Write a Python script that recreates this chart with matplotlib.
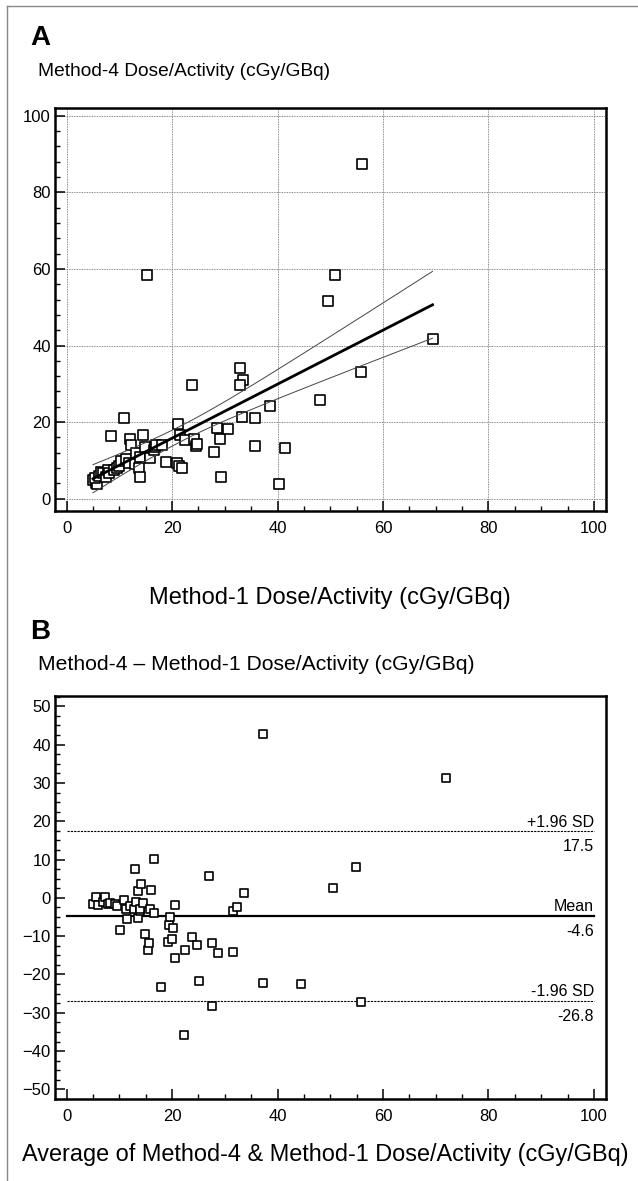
import matplotlib
matplotlib.use("Agg")
import matplotlib.pyplot as plt
import numpy as np
from matplotlib.lines import Line2D
from matplotlib.ticker import MultipleLocator

plt.rcParams['font.family'] = ['Liberation Sans', 'DejaVu Sans']

# Panel A: Method-1 vs Method-4 dose/activity (cGy/GBq)
method1 = [5.0, 5.5, 5.8, 5.3, 6.2, 6.5, 6.9, 7.4, 7.8, 8.1, 9.0, 9.6, 8.5, 10.0,
           10.4, 10.9, 11.2, 11.8, 12.1, 12.2, 12.9, 13.2, 13.8, 14.0, 14.0, 14.5,
           14.8, 15.2, 15.9, 16.5, 16.7, 17.0, 18.1, 18.9, 21.0, 21.1, 21.4, 21.6,
           21.9, 22.5, 23.8, 24.1, 24.6, 24.8, 28.0, 28.6, 29.1, 29.2, 30.7, 32.9,
           33.4, 32.9, 33.3, 35.7, 35.7, 38.5, 40.2, 41.5, 48.1, 49.5, 50.9, 55.8,
           56.0, 69.4]
method4 = [4.8, 4.2, 3.8, 5.3, 6.0, 6.9, 6.6, 5.7, 7.6, 6.8, 7.4, 8.0, 16.3, 8.5,
           9.9, 21.1, 10.5, 9.2, 15.7, 13.9, 9.0, 11.9, 8.1, 11.0, 5.7, 16.6,
           13.5, 58.3, 10.7, 12.8, 13.4, 14.0, 14.0, 9.7, 9.4, 19.4, 8.6, 16.6,
           8.0, 15.3, 29.6, 15.5, 13.8, 14.3, 12.1, 18.4, 15.5, 5.8, 18.2, 34.1,
           31.0, 29.6, 21.3, 21.2, 13.8, 24.3, 3.9, 13.2, 25.9, 51.7, 58.3, 33.0,
           87.3, 41.8]

# regression line and its 95% confidence band
fit_intercept = 1.7
fit_slope = 0.705
band_min = 2.05
band_xmean = 22.0
band_curv = 0.032

# Panel B: Bland-Altman
avg_b = [5.0, 5.5, 6.0, 6.9, 7.3, 7.8, 8.2, 9.1, 9.6, 10.2, 10.9, 11.2, 11.5, 12.0,
         12.8, 12.9, 13.1, 13.5, 13.5, 13.9, 14.0, 14.2, 14.5, 14.8, 15.4, 15.6,
         15.9, 16.1, 16.5, 16.5, 17.9, 19.3, 19.4, 19.6, 19.9, 20.1, 20.5, 20.6,
         22.2, 22.5, 23.8, 24.7, 25.2, 27.0, 27.5, 27.5, 28.7, 31.5, 31.6, 32.3,
         33.7, 37.2, 37.3, 44.5, 50.6, 54.9, 55.8, 72.0]
diff_b = [-1.6, 0.2, -1.8, -1.2, 0.3, -1.5, -1.4, -1.6, -2.2, -8.5, -0.5, -3.0, -5.6, -2.0,
          -3.0, 7.6, -1.0, 1.7, -5.3, -3.4, -2.8, 3.6, -1.4, -9.4, -13.6, -11.7,
          -3.0, 2.1, 10.1, -4.0, -23.2, -11.4, -7.0, -5.0, -10.7, -7.9, -15.7, -1.9,
          -35.7, -13.5, -10.3, -12.4, -21.8, 5.6, -11.8, -28.2, -14.4, -3.3, -14.2, -2.5,
          1.2, -22.2, 42.8, -22.6, 2.6, 8.1, -27.3, 31.3]
bias = -4.6
loa_upper = 17.5
loa_lower = -26.8

W, H = 638, 1181
fig = plt.figure(figsize=(W / 100, H / 100), dpi=100)

# thin grey frame on the left and top
fig.add_artist(Line2D([7 / W, 7 / W], [0, 1 - 6 / H], color='#888888', lw=1.0))
fig.add_artist(Line2D([7 / W, 1], [1 - 6 / H, 1 - 6 / H], color='#888888', lw=1.0))


def style_axes(ax):
    for s in ax.spines.values():
        s.set_linewidth(1.8)
    ax.tick_params(which='major', direction='in', length=7, width=1.1,
                   labelsize=12, top=False, right=False)
    ax.tick_params(which='minor', direction='in', length=3.5, width=1.0,
                   top=False, right=False)
    ax.tick_params(axis='x', which='major', pad=7)
    ax.tick_params(axis='y', which='major', pad=3)


# ---- Panel A ----
axA = fig.add_axes([55 / W, 1 - 511 / H, 551 / W, 403 / H])
axA.scatter(method1, method4, marker='s', s=42, facecolors='white',
            edgecolors='black', linewidths=1.2, zorder=3)

xs = np.linspace(min(method1), max(method1), 100)
fit = fit_intercept + fit_slope * xs
hw = np.sqrt(band_min ** 2 + band_curv * (xs - band_xmean) ** 2)
axA.plot(xs, fit, color='black', lw=2.0, zorder=4)
axA.plot(xs, fit + hw, color='#444444', lw=0.7, zorder=4)
axA.plot(xs, fit - hw, color='#444444', lw=0.7, zorder=4)

axA.set_xlim(-2.2, 102.3)
axA.set_ylim(-3.2, 102.0)
axA.xaxis.set_major_locator(MultipleLocator(20))
axA.xaxis.set_minor_locator(MultipleLocator(5))
axA.yaxis.set_major_locator(MultipleLocator(20))
axA.yaxis.set_minor_locator(MultipleLocator(4))
axA.grid(True, which='major', color='#666666', lw=0.6, ls=(0, (1, 1)))
style_axes(axA)

fig.text(30 / W, 1 - 38 / H, 'A', fontsize=20, fontweight='bold', va='center')
fig.text(38 / W, 1 - 72 / H, 'Method-4 Dose/Activity (cGy/GBq)', fontsize=13.8, va='center')
fig.text(330 / W, 1 - 598 / H, 'Method-1 Dose/Activity (cGy/GBq)', fontsize=17,
         ha='center', va='center')

# ---- Panel B ----
axB = fig.add_axes([55 / W, 1 - 1099 / H, 551 / W, 403 / H])
axB.scatter(avg_b, diff_b, marker='s', s=38, facecolors='white',
            edgecolors='black', linewidths=1.2, zorder=3)
axB.plot([0, 100], [bias, bias], color='black', lw=1.6)
axB.plot([0, 100], [loa_upper, loa_upper], color='black', lw=0.8, ls=(0, (2, 1)))
axB.plot([0, 100], [loa_lower, loa_lower], color='black', lw=0.8, ls=(0, (2, 1)))

for val, name in [(loa_upper, '+1.96 SD'), (bias, 'Mean'), (loa_lower, '-1.96 SD')]:
    axB.text(100, val + 2.3, name, ha='right', va='center', fontsize=11.5)
    axB.text(100, val - 4.2, f'{val:.1f}', ha='right', va='center', fontsize=11.5)

axB.set_xlim(-2.2, 102.3)
axB.set_ylim(-52.5, 52.7)
axB.xaxis.set_major_locator(MultipleLocator(20))
axB.xaxis.set_minor_locator(MultipleLocator(5))
axB.yaxis.set_major_locator(MultipleLocator(10))
axB.yaxis.set_minor_locator(MultipleLocator(2.5))
style_axes(axB)

fig.text(30 / W, 1 - 632 / H, 'B', fontsize=20, fontweight='bold', va='center')
fig.text(38 / W, 1 - 665 / H, 'Method-4 \u2013 Method-1 Dose/Activity (cGy/GBq)',
         fontsize=15.2, va='center')
fig.text(325 / W, 1 - 1155 / H,
         'Average of Method-4 & Method-1 Dose/Activity (cGy/GBq)', fontsize=16.9,
         ha='center', va='center')

fig.savefig('out.png', dpi=100)
